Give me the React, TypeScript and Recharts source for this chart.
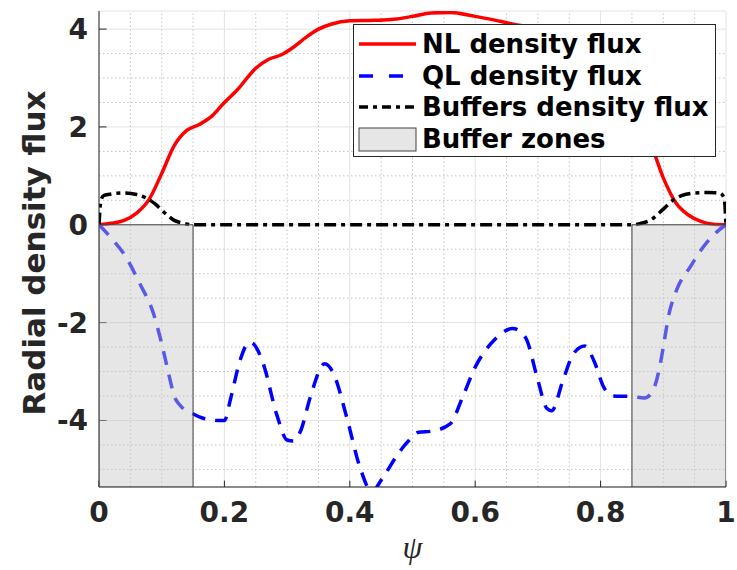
import React from 'react'
import { LineChart, Line, XAxis, YAxis, CartesianGrid, ReferenceLine, ReferenceArea, Label } from 'recharts'

// psi ticks and flux ticks
const psiTicks = [0, 0.2, 0.4, 0.6, 0.8, 1]
const fluxTicks = [-4, -2, 0, 2, 4]
const psiMinor = [0.05, 0.1, 0.15, 0.25, 0.3, 0.35, 0.45, 0.5, 0.55, 0.65, 0.7, 0.75, 0.85, 0.9, 0.95]
const fluxMinor = [-5, -4.5, -3.5, -3, -2.5, -1.5, -1, -0.5, 0.5, 1, 1.5, 2.5, 3, 3.5]

const Y_MIN = -5.36
const Y_MAX = 4.37

// NL density flux (red)
const nlPsi = [0, 0.02, 0.04, 0.06, 0.08, 0.1, 0.12, 0.14, 0.16, 0.18, 0.2, 0.22, 0.25, 0.27, 0.29, 0.31, 0.33, 0.35, 0.37, 0.4, 0.44, 0.47, 0.5, 0.53, 0.56, 0.6, 0.64, 0.67, 0.7, 0.74, 0.78, 0.82, 0.86, 0.88, 0.9, 0.92, 0.94, 0.96, 0.98, 1]
const nlFlux = [0, 0.03, 0.09, 0.24, 0.52, 1.05, 1.62, 1.93, 2.05, 2.22, 2.5, 2.75, 3.2, 3.38, 3.47, 3.63, 3.83, 4.0, 4.1, 4.17, 4.18, 4.2, 4.26, 4.33, 4.34, 4.26, 4.16, 4.08, 4.02, 3.85, 3.4, 2.75, 2.1, 1.65, 0.96, 0.45, 0.2, 0.07, 0.01, 0]

// QL density flux (blue)
const qlPsi = [0, 0.02, 0.04, 0.065, 0.087, 0.1, 0.111, 0.12, 0.13, 0.145, 0.165, 0.19, 0.2, 0.21, 0.225, 0.24, 0.245, 0.262, 0.283, 0.3, 0.31, 0.322, 0.337, 0.36, 0.374, 0.395, 0.416, 0.435, 0.453, 0.475, 0.49, 0.51, 0.53, 0.56, 0.58, 0.6, 0.63, 0.66, 0.68, 0.7, 0.714, 0.722, 0.74, 0.757, 0.775, 0.79, 0.805, 0.82, 0.85, 0.87, 0.883, 0.892, 0.9, 0.908, 0.921, 0.943, 0.964, 0.985, 1]
const qlFlux = [0, -0.28, -0.6, -1.2, -1.82, -2.43, -3.04, -3.5, -3.7, -3.83, -3.95, -4.0, -4.0, -3.55, -2.77, -2.4, -2.42, -2.84, -3.86, -4.4, -4.42, -4.2, -3.52, -2.84, -3.04, -3.93, -4.95, -5.45, -5.16, -4.72, -4.47, -4.24, -4.22, -4.07, -3.52, -2.91, -2.36, -2.12, -2.3, -3.18, -3.75, -3.8, -3.18, -2.63, -2.48, -2.8, -3.32, -3.5, -3.51, -3.54, -3.4, -3.04, -2.5, -1.89, -1.34, -0.86, -0.45, -0.15, 0]

// Buffers density flux (black)
const bufPsi = [0, 0.003, 0.008, 0.02, 0.04, 0.06, 0.075, 0.09, 0.105, 0.12, 0.135, 0.15, 0.3, 0.5, 0.7, 0.85, 0.865, 0.88, 0.9, 0.915, 0.93, 0.95, 0.97, 0.99, 0.997, 1]
const bufFlux = [0, 0.5, 0.6, 0.63, 0.65, 0.62, 0.55, 0.42, 0.24, 0.09, 0.03, 0, 0, 0, 0, 0, 0.03, 0.1, 0.32, 0.5, 0.6, 0.65, 0.66, 0.65, 0.55, 0]

const bufferZones = [[0, 0.15], [0.85, 1]]

const toData = (xs: number[], ys: number[]) => xs.map((psi, i) => ({ psi, v: ys[i] }))

const tickStyle = { fill: '#262626', fontSize: 28, fontWeight: 'bold', fontFamily: 'DejaVu Sans' }

const legendItems = [
  { label: 'NL density flux', kind: 'line', color: '#ff0000', dash: undefined },
  { label: 'QL density flux', kind: 'line', color: '#0000ff', dash: '14 16' },
  { label: 'Buffers density flux', kind: 'line', color: '#000000', dash: '9 5 4 5' },
  { label: 'Buffer zones', kind: 'patch', color: '#e6e6e6', dash: undefined },
]

export default function App() {
  return (
    <div style={{ position: 'absolute', left: 0, top: 0, width: 737, height: 570, background: '#fff' }}>
      <LineChart width={737} height={570} margin={{ top: 11, right: 11, left: 0, bottom: 0 }}>
        <CartesianGrid stroke="#e3e3e3" strokeWidth={1} />
        {psiMinor.map(p => (
          <ReferenceLine key={`vx-${p}`} x={p} stroke="#c4c4c4" strokeDasharray="1.5 2.5" />
        ))}
        {fluxMinor.map(f => (
          <ReferenceLine key={`hy-${f}`} y={f} stroke="#c4c4c4" strokeDasharray="1.5 2.5" />
        ))}
        <XAxis
          dataKey="psi"
          type="number"
          domain={[0, 1]}
          ticks={psiTicks}
          tickFormatter={(v: number) => String(v)}
          allowDataOverflow
          height={83}
          tickSize={0}
          tickMargin={15}
          tick={tickStyle}
          axisLine={{ stroke: '#262626', strokeWidth: 1 }}
        >
          <Label
            value="ψ"
            position="insideBottom"
            offset={12}
            style={{ fill: '#262626', fontSize: 32, fontStyle: 'italic', fontFamily: 'Liberation Serif' }}
          />
        </XAxis>
        <YAxis
          type="number"
          domain={[Y_MIN, Y_MAX]}
          ticks={fluxTicks}
          allowDataOverflow
          width={99}
          tickSize={0}
          tickMargin={11}
          tick={tickStyle}
          axisLine={{ stroke: '#262626', strokeWidth: 1 }}
        >
          <Label
            content={() => (
              <text
                x={34}
                y={253}
                transform="rotate(-90, 34, 253)"
                textAnchor="middle"
                dominantBaseline="central"
                style={{ fill: '#262626', fontSize: 31, fontWeight: 'bold', fontFamily: 'DejaVu Sans' }}
              >
                Radial density flux
              </text>
            )}
          />
        </YAxis>
        {psiTicks.map(p => (
          <ReferenceLine key={`tx-${p}`} segment={[{ x: p, y: Y_MIN }, { x: p, y: Y_MIN + 0.13 }]} stroke="#262626" />
        ))}
        {fluxTicks.map(f => (
          <ReferenceLine key={`ty-${f}`} segment={[{ x: 0, y: f }, { x: 0.012, y: f }]} stroke="#262626" />
        ))}
        <Line data={toData(nlPsi, nlFlux)} dataKey="v" type="monotone" stroke="#ff0000" strokeWidth={3.5} dot={false} isAnimationActive={false} />
        <Line data={toData(qlPsi, qlFlux)} dataKey="v" type="monotone" stroke="#0000ff" strokeWidth={3.5} strokeDasharray="14 10" dot={false} isAnimationActive={false} />
        <Line data={toData(bufPsi, bufFlux)} dataKey="v" type="monotone" stroke="#000000" strokeWidth={3.5} strokeDasharray="12 5 4 5" dot={false} isAnimationActive={false} />
        {bufferZones.map(([a, b]) => (
          <ReferenceArea
            key={`bz-${a}`}
            x1={a}
            x2={b}
            y1={Y_MIN}
            y2={0}
            fill="#c8c8c8"
            fillOpacity={0.45}
            stroke="#404040"
            strokeWidth={1}
            ifOverflow="hidden"
            zIndex={600}
          />
        ))}
      </LineChart>

      <div
        style={{
          position: 'absolute',
          left: 353,
          top: 24,
          width: 361,
          height: 131,
          border: '1px solid #262626',
          background: '#fff',
          fontFamily: 'DejaVu Sans',
          fontWeight: 'bold',
          fontSize: 26,
          color: '#000',
        }}
      >
        {legendItems.map((it, i) => (
          <div key={it.label} style={{ position: 'absolute', left: 0, top: 3 + i * 31.7, height: 32, display: 'flex', alignItems: 'center', whiteSpace: 'nowrap' }}>
            <svg width={68} height={32} style={{ display: 'block' }}>
              {it.kind === 'line' ? (
                <line x1={5} y1={16} x2={62} y2={16} stroke={it.color} strokeWidth={3.5} strokeDasharray={it.dash} />
              ) : (
                <rect x={5} y={5} width={57} height={23} fill={it.color} stroke="#404040" strokeWidth={1} />
              )}
            </svg>
            <span style={{ lineHeight: '32px' }}>{it.label}</span>
          </div>
        ))}
      </div>
    </div>
  )
}
